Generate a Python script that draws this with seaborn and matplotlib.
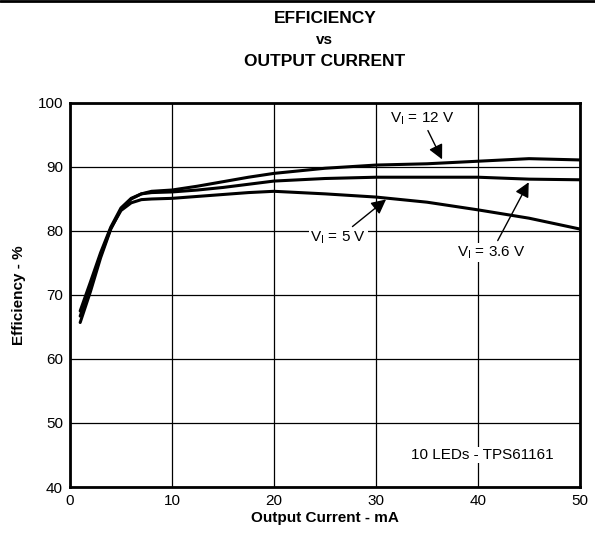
import pandas as pd
import seaborn as sns
import matplotlib.pyplot as plt
from matplotlib.lines import Line2D

# values
current = [1, 2, 3, 4, 5, 6, 7, 8, 10, 12.5, 15, 17.5, 20, 25, 30, 35, 40, 45, 50]
eff_12v = [65.7, 70.5, 75.8, 80.3, 83.4, 85.0, 85.8, 86.2, 86.4, 87.0, 87.7, 88.4, 89.0, 89.8, 90.3, 90.5, 90.9, 91.3, 91.1]
eff_36v = [67.5, 72.0, 76.6, 80.6, 83.6, 85.1, 85.8, 86.0, 86.1, 86.4, 86.8, 87.3, 87.8, 88.2, 88.4, 88.4, 88.4, 88.1, 88.0]
eff_5v = [66.7, 71.2, 76.2, 80.4, 83.2, 84.4, 84.9, 85.0, 85.1, 85.4, 85.7, 86.0, 86.2, 85.8, 85.3, 84.5, 83.3, 82.0, 80.3]

df = pd.DataFrame({
    "Current": current * 3,
    "Efficiency": eff_12v + eff_36v + eff_5v,
    "Vin": ["12 V"] * len(current) + ["3.6 V"] * len(current) + ["5 V"] * len(current),
})

sns.set_theme(style="white")
plt.rcParams["font.family"] = ["Liberation Sans", "DejaVu Sans"]
plt.rcParams.update({"text.color": "black", "axes.labelcolor": "black",
                     "xtick.color": "black", "ytick.color": "black"})

fig = plt.figure(figsize=(5.95, 5.33), dpi=100)
ax = fig.add_axes([0.1176, 0.0863, 0.8572, 0.7205])

sns.lineplot(data=df, x="Current", y="Efficiency", hue="Vin",
             palette=["black"] * 3, linewidth=2.2, legend=False, ax=ax)

ax.set_xlim(0, 50)
ax.set_ylim(40, 100)
ax.set_xticks([0, 10, 20, 30, 40, 50])
ax.set_yticks([40, 50, 60, 70, 80, 90, 100])
ax.grid(True, color="black", linewidth=0.9)
ax.tick_params(labelsize=11, length=0, pad=5)
for s in ax.spines.values():
    s.set_color("black")
    s.set_linewidth(2)

ax.set_xlabel("Output Current - mA", fontsize=11, fontweight="bold", labelpad=2)
ax.set_ylabel("Efficiency - %", fontsize=11, fontweight="bold", labelpad=8)

fig.text(0.546, 0.965, "EFFICIENCY", ha="center", va="center", fontsize=12.5, fontweight="bold")
fig.text(0.546, 0.925, "vs", ha="center", va="center", fontsize=11, fontweight="bold")
fig.text(0.546, 0.885, "OUTPUT CURRENT", ha="center", va="center", fontsize=12.5, fontweight="bold")
fig.add_artist(Line2D([0, 1], [0.998, 0.998], color="black", linewidth=2, transform=fig.transFigure))

box = dict(facecolor="white", edgecolor="none", pad=1)
arrow = dict(arrowstyle="-|>", color="black", lw=1, mutation_scale=22)
ax.annotate("V$_\\mathregular{I}$ = 12 V", xy=(36.6, 90.8), xytext=(34.5, 97.6),
            ha="center", va="center", fontsize=11, bbox=box, arrowprops=arrow)
ax.annotate("V$_\\mathregular{I}$ = 5 V", xy=(31.2, 85.2), xytext=(26.3, 78.9),
            ha="center", va="center", fontsize=11, bbox=box, arrowprops=arrow)
ax.annotate("V$_\\mathregular{I}$ = 3.6 V", xy=(45.1, 88.0), xytext=(41.3, 76.6),
            ha="center", va="center", fontsize=11, bbox=box, arrowprops=arrow)
ax.text(40.4, 45.0, "10 LEDs - TPS61161", ha="center", va="center", fontsize=11, bbox=box)

fig.savefig("out.png", dpi=100)
